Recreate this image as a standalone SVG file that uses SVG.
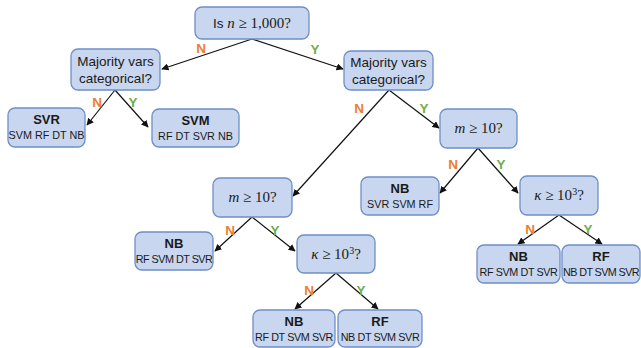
<svg xmlns="http://www.w3.org/2000/svg" width="641" height="348" viewBox="0 0 641 348">
<style>
.box{fill:#c8d6ef;stroke:#6e8fc6;stroke-width:1.3}
.t{font-family:"Liberation Sans",Arial,sans-serif;fill:#1a1a1a;text-anchor:middle}
.q{font-size:13.5px}
.h{font-size:13px;font-weight:bold}
.s{font-size:10.8px}
.m{font-family:"Liberation Serif","Times New Roman",serif;font-size:15px;fill:#1a1a1a;text-anchor:middle}
.e{stroke:#111;stroke-width:1.2;fill:none;marker-end:url(#ah)}
.N{font-family:"Liberation Sans",Arial,sans-serif;font-size:13.5px;font-weight:bold;fill:#ed7d31;text-anchor:middle}
.Y{font-family:"Liberation Sans",Arial,sans-serif;font-size:13.5px;font-weight:bold;fill:#70ad47;text-anchor:middle}
</style>
<defs>
<marker id="ah" viewBox="0 0 10 10" refX="9" refY="5" markerWidth="6" markerHeight="6" orient="auto">
<path d="M0,0 L10,5 L0,10 z" fill="#111"/>
</marker>
</defs>
<rect width="641" height="348" fill="#fff"/>
<g id="connectors">
<line class="e" x1="252" y1="39" x2="162" y2="69"/>
<line class="e" x1="252" y1="39" x2="343" y2="69"/>
<line class="e" x1="115" y1="90" x2="87" y2="125"/>
<line class="e" x1="115" y1="90" x2="148" y2="127"/>
<line class="e" x1="389" y1="90" x2="293" y2="196"/>
<line class="e" x1="389" y1="90" x2="439" y2="128"/>
<line class="e" x1="478" y1="148" x2="440" y2="193"/>
<line class="e" x1="478" y1="148" x2="518" y2="193"/>
<line class="e" x1="252" y1="217" x2="215" y2="251"/>
<line class="e" x1="252" y1="217" x2="295" y2="251"/>
<line class="e" x1="559" y1="215" x2="518" y2="244"/>
<line class="e" x1="559" y1="215" x2="602" y2="244"/>
<line class="e" x1="336" y1="273" x2="295" y2="309"/>
<line class="e" x1="336" y1="273" x2="378" y2="309"/>
<text class="N" x="201" y="53">N</text>
<text class="Y" x="315" y="54">Y</text>
<text class="N" x="97" y="107">N</text>
<text class="Y" x="133" y="107">Y</text>
<text class="N" x="359" y="113">N</text>
<text class="Y" x="424" y="113">Y</text>
<text class="N" x="453" y="169">N</text>
<text class="Y" x="501" y="169">Y</text>
<text class="N" x="230" y="235">N</text>
<text class="Y" x="275" y="235">Y</text>
<text class="N" x="530" y="234">N</text>
<text class="Y" x="588" y="234">Y</text>
<text class="N" x="309" y="295">N</text>
<text class="Y" x="361" y="295">Y</text>
</g>
<g id="root">
<rect class="box" x="195" y="7" width="114" height="32" rx="7"/>
<text class="m" x="252" y="28"><tspan font-family="Liberation Sans,sans-serif" font-size="13.5">Is </tspan><tspan font-style="italic">n</tspan> ≥ 1,000?</text>
</g>
<g id="maj-left">
<rect class="box" x="71" y="49" width="89" height="41" rx="7"/>
<text class="t q" x="115.5" y="66">Majority vars</text>
<text class="t q" x="115.5" y="83">categorical?</text>
</g>
<g id="maj-right">
<rect class="box" x="344" y="51" width="89" height="39" rx="7"/>
<text class="t q" x="388.5" y="67">Majority vars</text>
<text class="t q" x="388.5" y="84">categorical?</text>
</g>
<g id="svr">
<rect class="box" x="8" y="108" width="77" height="39" rx="7"/>
<text class="t h" x="46.5" y="124">SVR</text>
<text class="t s" x="46.5" y="139">SVM RF DT NB</text>
</g>
<g id="svm">
<rect class="box" x="152" y="109" width="87" height="38" rx="7"/>
<text class="t h" x="195.5" y="125">SVM</text>
<text class="t s" x="195.5" y="140">RF DT SVR NB</text>
</g>
<g id="m-right">
<rect class="box" x="440" y="109" width="77" height="39" rx="7"/>
<text class="m" x="478.5" y="133"><tspan font-style="italic">m</tspan> ≥ 10?</text>
</g>
<g id="m-left">
<rect class="box" x="213" y="178" width="79" height="39" rx="7"/>
<text class="m" x="252.5" y="202"><tspan font-style="italic">m</tspan> ≥ 10?</text>
</g>
<g id="nb-mid">
<rect class="box" x="361" y="177" width="78" height="38" rx="7"/>
<text class="t h" x="400" y="193">NB</text>
<text class="t s" x="400" y="208">SVR SVM RF</text>
</g>
<g id="k-right">
<rect class="box" x="520" y="176" width="78" height="39" rx="7"/>
<text class="m" x="559" y="200"><tspan font-style="italic">κ</tspan> ≥ 10<tspan font-size="10" dy="-5">3</tspan><tspan dy="5">?</tspan></text>
</g>
<g id="nb-left">
<rect class="box" x="135" y="232" width="78" height="38" rx="7"/>
<text class="t h" x="174" y="248">NB</text>
<text class="t s" x="174" y="263" letter-spacing="-0.5">RF SVM DT SVR</text>
</g>
<g id="k-left">
<rect class="box" x="297" y="235" width="78" height="38" rx="7"/>
<text class="m" x="336" y="259"><tspan font-style="italic">κ</tspan> ≥ 10<tspan font-size="10" dy="-5">3</tspan><tspan dy="5">?</tspan></text>
</g>
<g id="nb-br">
<rect class="box" x="477" y="245" width="83" height="38" rx="7"/>
<text class="t h" x="518.5" y="261">NB</text>
<text class="t s" x="518.5" y="276" letter-spacing="-0.4">RF SVM DT SVR</text>
</g>
<g id="rf-br">
<rect class="box" x="562" y="245" width="78" height="38" rx="7"/>
<text class="t h" x="601" y="261">RF</text>
<text class="t s" x="601" y="276" letter-spacing="-0.6">NB DT SVM SVR</text>
</g>
<g id="nb-bl">
<rect class="box" x="253" y="310" width="82" height="37" rx="7"/>
<text class="t h" x="294" y="326">NB</text>
<text class="t s" x="294" y="341" letter-spacing="-0.4">RF DT SVM SVR</text>
</g>
<g id="rf-bl">
<rect class="box" x="338" y="310" width="84" height="37" rx="7"/>
<text class="t h" x="380" y="326">RF</text>
<text class="t s" x="380" y="341" letter-spacing="-0.4">NB DT SVM SVR</text>
</g>
</svg>
